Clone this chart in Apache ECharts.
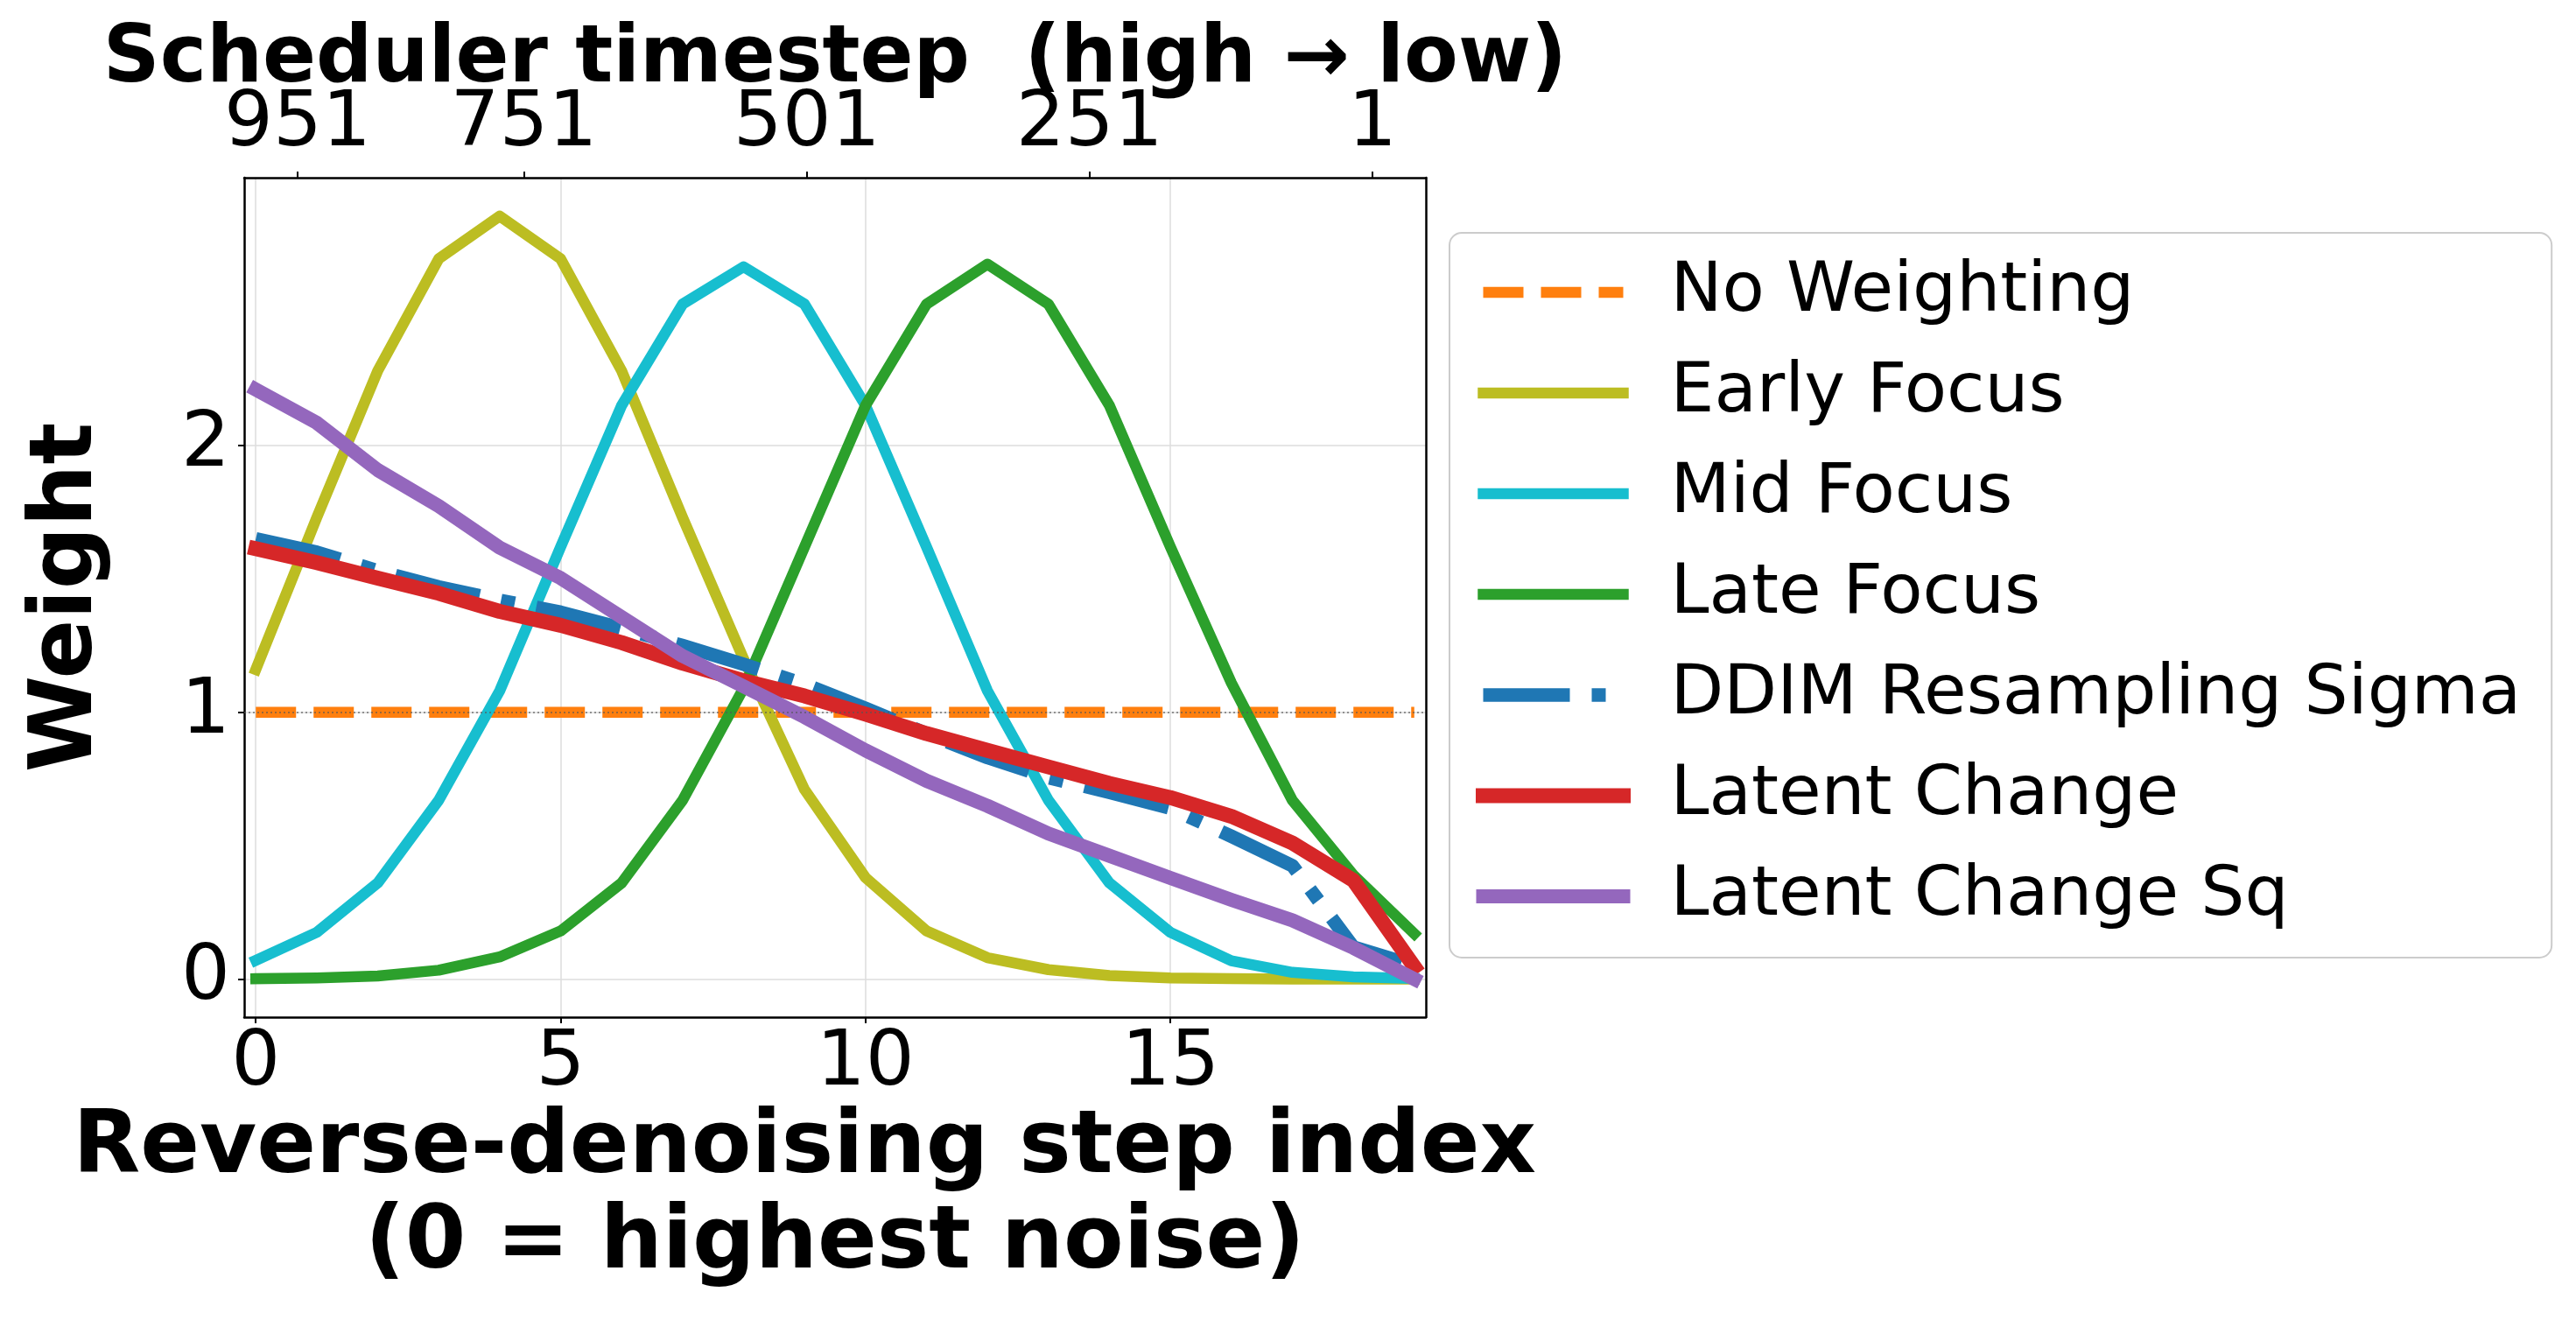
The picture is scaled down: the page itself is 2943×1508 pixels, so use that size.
<!DOCTYPE html>
<html>
<head>
<meta charset="utf-8">
<script src="https://cdn.jsdelivr.net/npm/echarts@6/dist/echarts.min.js"></script>
<style>
  html, body { margin: 0; padding: 0; background: #fff; }
  .chart1 { width: 2943px; height: 1508px; }
</style>
</head>
<body>
<div class="chart1" id="chart1"></div>
<script>
// reverse-denoising step index (x) and tick labels
var steps = [0, 1, 2, 3, 4, 5, 6, 7, 8, 9, 10, 11, 12, 13, 14, 15, 16, 17, 18, 19];
var stepTicks = [0, 5, 10, 15];
var timestepTicks = [951, 751, 501, 251, 1];
var weightTicks = [0, 1, 2];

// weights per step
var noWeighting = [1, 1, 1, 1, 1, 1, 1, 1, 1, 1, 1, 1, 1, 1, 1, 1, 1, 1, 1, 1];
var earlyFocus = [1.16, 1.73, 2.28, 2.70, 2.86, 2.70, 2.28, 1.73, 1.20, 0.71, 0.38, 0.18, 0.08, 0.035, 0.013, 0.004, 0.001, 0, 0, 0];
var midFocus = [0.07, 0.175, 0.36, 0.67, 1.08, 1.62, 2.15, 2.53, 2.67, 2.53, 2.15, 1.62, 1.08, 0.67, 0.36, 0.175, 0.068, 0.025, 0.008, 0.002];
var lateFocus = [0.001, 0.004, 0.011, 0.033, 0.083, 0.18, 0.36, 0.67, 1.09, 1.62, 2.15, 2.53, 2.68, 2.53, 2.15, 1.62, 1.11, 0.67, 0.39, 0.17];
var ddimSigma = [1.65, 1.60, 1.53, 1.47, 1.42, 1.375, 1.315, 1.25, 1.18, 1.105, 1.015, 0.92, 0.83, 0.755, 0.70, 0.64, 0.535, 0.425, 0.12, 0.05];
var latentChange = [1.613, 1.561, 1.503, 1.446, 1.378, 1.326, 1.261, 1.184, 1.118, 1.061, 0.993, 0.92, 0.857, 0.795, 0.733, 0.68, 0.61, 0.51, 0.37, 0.046];
var latentChangeSq = [2.21, 2.085, 1.908, 1.773, 1.617, 1.503, 1.357, 1.211, 1.097, 0.982, 0.857, 0.743, 0.649, 0.545, 0.462, 0.379, 0.297, 0.22, 0.117, 0.0];

var FONT = "DejaVu Sans";

function pairs(vals) {
  return vals.map(function (v, i) {
    return [steps[i], v];
  });
}

function lineSeries(name, vals, color, width, dash, cap) {
  return {
    name: name,
    type: "line",
    data: pairs(vals),
    symbol: "none",
    showSymbol: false,
    silent: true,
    clip: true,
    lineStyle: {
      color: color,
      width: width,
      type: dash || "solid",
      cap: cap || "square",
      join: "round",
    },
    itemStyle: { color: color },
  };
}

var chart1 = echarts.init(document.getElementById("chart1"), null, { renderer: "canvas" });

var noWeightSeries = lineSeries("No Weighting", noWeighting, "#ff7f0e", 12.5, [46, 20], "butt");
noWeightSeries.markLine = {
  silent: true,
  symbol: "none",
  label: { show: false },
  lineStyle: { color: "#555", width: 1.5, type: [2, 3], opacity: 0.8 },
  data: [{ yAxis: 1 }],
};

var option = {
  backgroundColor: "#fff",
  animation: false,
  grid: {
    left: 279,
    right: 1314,
    top: 203,
    bottom: 346,
    containLabel: false,
    outerBoundsMode: "none",
  },
  legend: {
    orient: "vertical",
    left: 1656,
    top: 266,
    align: "left",
    padding: [20, 35, 22, 30],
    itemGap: 19,
    itemWidth: 160,
    itemHeight: 20,
    selectedMode: false,
    backgroundColor: "#fff",
    borderColor: "#cccccc",
    borderWidth: 2,
    borderRadius: 14,
    lineStyle: { width: "inherit" },
    itemStyle: { color: "rgba(0,0,0,0)", borderWidth: 0, opacity: 0 },
    textStyle: {
      fontFamily: FONT,
      fontSize: 79,
      color: "#000",
      lineHeight: 96,
      padding: [0, 0, 0, 49],
    },
    data: ["No Weighting", "Early Focus", "Mid Focus", "Late Focus", "DDIM Resampling Sigma", "Latent Change", "Latent Change Sq"],
  },
  xAxis: [
    {
      type: "value",
      position: "bottom",
      min: -0.19,
      max: 19.19,
      name: "Reverse-denoising step index  \n(0 = highest noise)",
      nameLocation: "middle",
      nameGap: 97,
      nameMoveOverlap: false,
      nameTextStyle: { fontFamily: FONT, fontSize: 100, fontWeight: "bold", color: "#000", lineHeight: 109 },
      axisLine: { show: true, onZero: false, lineStyle: { color: "#000", width: 2.5 } },
      axisTick: { show: true, length: 7, customValues: stepTicks, lineStyle: { color: "#000", width: 2 } },
      axisLabel: { customValues: stepTicks, margin: 10, fontFamily: FONT, fontSize: 88, color: "#000" },
      splitLine: { show: true, lineStyle: { color: "#dcdcdc", width: 1.5 } },
    },
    {
      type: "value",
      position: "top",
      inverse: true,
      min: -46.2,
      max: 998.2,
      name: "Scheduler timestep  (high \u2192 low)",
      nameLocation: "middle",
      nameGap: 88,
      nameMoveOverlap: false,
      nameTextStyle: { fontFamily: FONT, fontSize: 90, fontWeight: "bold", color: "#000" },
      axisLine: { show: true, onZero: false, lineStyle: { color: "#000", width: 2.5 } },
      axisTick: { show: true, length: 7, customValues: timestepTicks, lineStyle: { color: "#000", width: 2 } },
      axisLabel: { customValues: timestepTicks, margin: 16, fontFamily: FONT, fontSize: 88, color: "#000" },
      splitLine: { show: false },
    },
  ],
  yAxis: [
    {
      type: "value",
      position: "left",
      min: -0.143,
      max: 3.004,
      name: "Weight",
      nameLocation: "middle",
      nameGap: 151,
      nameRotate: 90,
      nameMoveOverlap: false,
      nameTextStyle: { fontFamily: FONT, fontSize: 100, fontWeight: "bold", color: "#000" },
      axisLine: { show: true, onZero: false, lineStyle: { color: "#000", width: 2.5 } },
      axisTick: { show: true, length: 7, customValues: weightTicks, lineStyle: { color: "#000", width: 2 } },
      axisLabel: { customValues: weightTicks, margin: 16, fontFamily: FONT, fontSize: 88, color: "#000" },
      splitLine: { show: true, lineStyle: { color: "#dcdcdc", width: 1.5 } },
    },
    {
      type: "value",
      position: "right",
      min: -0.143,
      max: 3.004,
      axisLine: { show: true, onZero: false, lineStyle: { color: "#000", width: 2.5 } },
      axisTick: { show: false },
      axisLabel: { show: false },
      splitLine: { show: false },
    },
  ],
  series: [
    noWeightSeries,
    lineSeries("Early Focus", earlyFocus, "#bcbd22", 12.5),
    lineSeries("Mid Focus", midFocus, "#17becf", 12.5),
    lineSeries("Late Focus", lateFocus, "#2ca02c", 12.5),
    lineSeries("DDIM Resampling Sigma", ddimSigma, "#1f77b4", 15.5, [99, 25, 16, 25], "butt"),
    lineSeries("Latent Change", latentChange, "#d62728", 17),
    lineSeries("Latent Change Sq", latentChangeSq, "#9467bd", 16),
  ],
};

chart1.setOption(option);
window.addEventListener("resize", function () {
  chart1.resize();
});
</script>
</body>
</html>
